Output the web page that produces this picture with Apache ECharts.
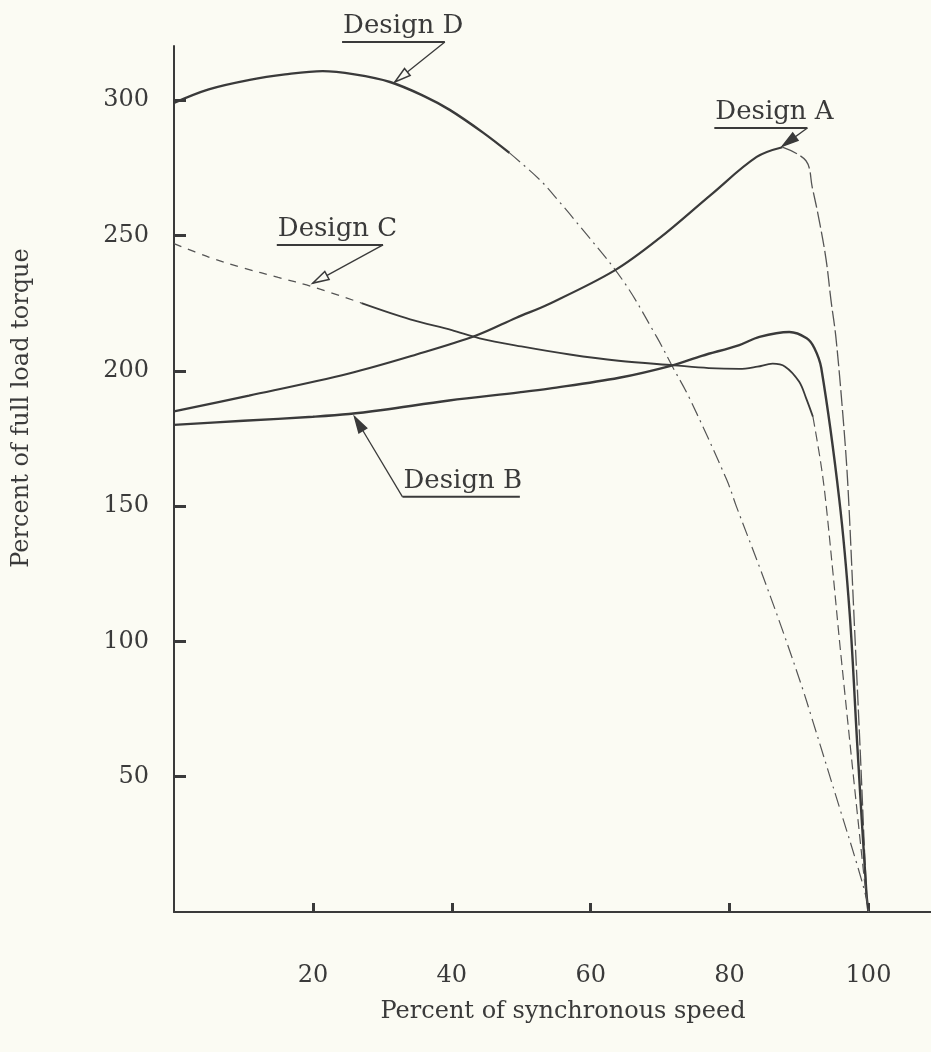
<!DOCTYPE html>
<html>
<head>
<meta charset="utf-8">
<script src="https://cdn.jsdelivr.net/npm/echarts@6/dist/echarts.min.js"></script>
<style>
html, body { margin: 0; padding: 0; background: #fbfbf3; }
#chart { width: 931px; height: 1052px; }
</style>
</head>
<body>
<div id="chart"></div>
<script>
"use strict";
// values (speed in % of synchronous, torque in % of full load)
const speedA = [0, 10.8, 25.2, 34.9, 43.5, 49.3, 54, 63.4, 69.9, 77.3, 83.9, 87.6, 91, 91.9, 92.9, 93.9, 94.6, 95.3, 96.3, 97, 97.9, 98.8, 99.7, 100];
const torqueA = [185, 190.8, 199, 206, 213, 219.6, 224.7, 237, 249, 265, 279, 282.6, 277.6, 267.8, 255.6, 241, 226, 212.5, 184, 159, 110, 60, 8, 0];

const speedB = [0, 10, 20, 25.2, 30, 39.6, 49.7, 54, 64.1, 71.8, 76, 81.4, 84.3, 88.6, 91.1, 92.2, 93.2, 95.8, 97.3, 98.4, 99.7, 100];
const torqueB = [180, 181.5, 183, 184, 185.5, 189, 192, 193.4, 197.4, 202, 205.5, 209.5, 212.5, 214.3, 212, 208.4, 201, 152.3, 110, 61, 7, 0];

const speedC = [0, 5, 10, 15, 20, 27, 34, 40, 44, 50, 57, 64, 72, 77, 81.4, 84, 86.2, 88, 90, 91, 92, 93, 93.7, 94.8, 96, 99.4, 100];
const torqueC = [247, 242, 238, 234.5, 231, 225, 219, 215, 212, 209, 206, 203.7, 202, 201, 200.7, 201.5, 202.6, 201.5, 196, 190, 183, 168, 155, 127.5, 95.7, 12, 0];

const speedD = [0, 5, 10.9, 16, 21.4, 26, 31.1, 36, 39.7, 44.5, 48.3, 52.7, 55.5, 57.7, 64.6, 69.5, 71.8, 74.2, 79.6, 81, 84.3, 87.5, 90.5, 91.8, 95.8, 98.3, 99.7, 100];
const torqueD = [299, 304, 307.5, 309.5, 310.7, 309.5, 306.7, 301.5, 296.4, 288, 280.5, 270.5, 262.4, 255.7, 233.5, 212.5, 201.4, 190, 159.6, 149.7, 127.5, 105, 82.6, 72, 38.8, 18, 5, 0];

const xTicks = [20, 40, 60, 80, 100];
const yTicks = [50, 100, 150, 200, 250, 300];

const INK = '#3a3a3a';
const FONT = 'DejaVu Serif';

const container = document.getElementById('chart');
const chart = echarts.init(container, null, { renderer: 'canvas' });

function pick(xs, ys, from, to) {
    const out = [];
    xs.forEach((x, i) => {
        if (x >= from && x <= to) {
            out.push([x, ys[i]]);
        }
    });
    return out;
}

function curve(name, data, type, width, color) {
    return {
        name,
        type: 'line',
        data,
        smooth: 0.35,
        showSymbol: false,
        symbol: 'none',
        silent: true,
        lineStyle: { color: color || INK, width, type }
    };
}

const series = [
    curve('Design D', pick(speedD, torqueD, 0, 48.3), 'solid', 2.4),
    curve('Design D', pick(speedD, torqueD, 48.3, 100), [14, 5, 2, 5], 1.2, '#555'),
    curve('Design A', pick(speedA, torqueA, 0, 87.6), 'solid', 2.2),
    curve('Design A', pick(speedA, torqueA, 87.6, 100), [16, 4], 1.3, '#555'),
    curve('Design B', pick(speedB, torqueB, 0, 100), 'solid', 2.4),
    curve('Design C', pick(speedC, torqueC, 0, 27), [8, 7], 1.3, '#555'),
    curve('Design C', pick(speedC, torqueC, 27, 92), 'solid', 1.8),
    curve('Design C', pick(speedC, torqueC, 92, 100), [10, 5], 1.2, '#555')
];

const option = {
    backgroundColor: '#fbfbf3',
    animation: false,
    grid: {
        left: 174,
        right: 0,
        top: 46,
        bottom: 140,
        containLabel: false,
        outerBoundsMode: 'none'
    },
    xAxis: {
        type: 'value',
        min: 0,
        max: 109,
        interval: 20,
        axisLine: { show: true, lineStyle: { color: INK, width: 2 } },
        axisTick: { show: true, inside: true, length: 9, customValues: xTicks, lineStyle: { color: INK, width: 3 } },
        splitLine: { show: false },
        axisLabel: {
            margin: 52,
            color: INK,
            fontFamily: FONT,
            fontSize: 24,
            customValues: xTicks
        }
    },
    yAxis: {
        type: 'value',
        min: 0,
        max: 320,
        interval: 50,
        axisLine: { show: true, lineStyle: { color: INK, width: 2 } },
        axisTick: { show: true, inside: true, length: 12, customValues: yTicks, lineStyle: { color: INK, width: 3 } },
        splitLine: { show: false },
        axisLabel: {
            margin: 25,
            color: INK,
            fontFamily: FONT,
            fontSize: 24,
            customValues: yTicks
        }
    },
    series
};
chart.setOption(option);

// callouts: underline under the label, leader line to the curve, arrow head at the tip
const notes = [
    { text: 'Design D', line: [[24.2, 321.5], [39.0, 321.5]], tip: [31.8, 306.7], from: 'end', open: true },
    { text: 'Design A', line: [[77.8, 289.7], [91.2, 289.7]], tip: [87.6, 283], from: 'end', open: false },
    { text: 'Design C', line: [[14.8, 246.5], [30.1, 246.5]], tip: [20, 232.4], from: 'end', open: true },
    { text: 'Design B', line: [[32.9, 153.4], [49.8, 153.4]], tip: [26, 183], from: 'start', open: false }
];

const toPx = p => chart.convertToPixel({ gridIndex: 0 }, p);
const graphics = [];

notes.forEach(note => {
    const a = toPx(note.line[0]);
    const b = toPx(note.line[1]);
    const tip = toPx(note.tip);
    const start = note.from === 'start' ? a : b;
    graphics.push({
        type: 'text',
        x: a[0] + 1,
        y: a[1] - 3,
        z: 10,
        style: { text: note.text, fill: INK, font: '26px "' + FONT + '"', align: 'left', verticalAlign: 'bottom' }
    });
    graphics.push({
        type: 'line',
        z: 10,
        shape: { x1: a[0], y1: a[1], x2: b[0], y2: b[1] },
        style: { stroke: INK, lineWidth: 2 }
    });
    graphics.push({
        type: 'line',
        z: 10,
        shape: { x1: start[0], y1: start[1], x2: tip[0], y2: tip[1] },
        style: { stroke: INK, lineWidth: 1.3 }
    });
    const dx = tip[0] - start[0];
    const dy = tip[1] - start[1];
    const len = Math.sqrt(dx * dx + dy * dy);
    const ux = dx / len, uy = dy / len;
    const L = 16, w = 4.5;
    const bx = tip[0] - ux * L, by = tip[1] - uy * L;
    graphics.push({
        type: 'polygon',
        z: 11,
        shape: { points: [[tip[0], tip[1]], [bx - uy * w, by + ux * w], [bx + uy * w, by - ux * w]] },
        style: { fill: note.open ? '#fbfbf3' : INK, stroke: INK, lineWidth: 1.5 }
    });
});

graphics.push({
    type: 'text',
    x: 22,
    y: 408,
    rotation: Math.PI / 2,
    style: { text: 'Percent of full load torque', fill: INK, font: '24px "' + FONT + '"', align: 'center', verticalAlign: 'middle' }
});
graphics.push({
    type: 'text',
    x: 563,
    y: 1012,
    style: { text: 'Percent of synchronous speed', fill: INK, font: '24px "' + FONT + '"', align: 'center', verticalAlign: 'middle' }
});

chart.setOption({ graphic: graphics });
</script>
</body>
</html>
